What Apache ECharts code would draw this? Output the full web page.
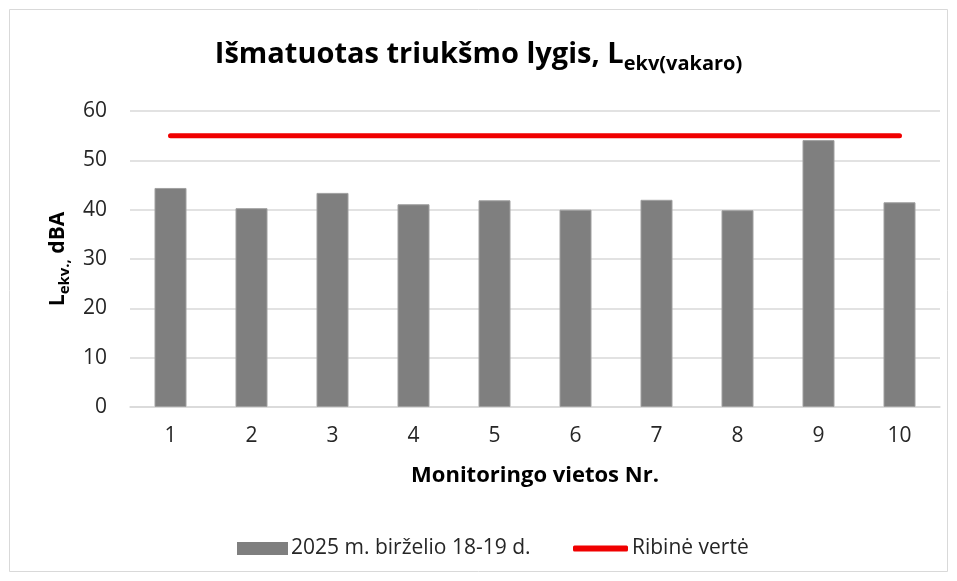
<!DOCTYPE html>
<html>
<head>
<meta charset="utf-8">
<script src="https://cdn.jsdelivr.net/npm/echarts@6/dist/echarts.min.js"></script>
<style>
  html, body { margin: 0; padding: 0; background: #fff; }
  #chart { width: 957px; height: 581px; }
</style>
</head>
<body>
<div id="chart"></div>
<script>
// duomenys
const vietos = ['1', '2', '3', '4', '5', '6', '7', '8', '9', '10']
const lygis = [44.4, 40.3, 43.4, 41.1, 41.9, 40.0, 42.0, 39.9, 54.1, 41.5]
const ribine = [55, 55, 55, 55, 55, 55, 55, 55, 55, 55]
const yTicks = [0, 10, 20, 30, 40, 50, 60]

const barName = '2025 m. birželio 18-19 d.'
const lineName = 'Ribinė vertė'
const font = '"Open Sans", "Noto Sans", sans-serif'
const txt = '#262626'

const chart = echarts.init(document.getElementById('chart'))

const option = {
  backgroundColor: '#fff',
  textStyle: { fontFamily: font },
  graphic: [{
    type: 'rect',
    shape: { x: 9.5, y: 9.5, width: 938, height: 562 },
    style: { fill: 'none', stroke: '#d9d9d9', lineWidth: 1 },
    silent: true
  }],
  title: {
    text: '{m|Išmatuotas triukšmo lygis, L}{s|ekv(vakaro)}',
    left: 'center',
    top: 31,
    textStyle: {
      rich: {
        m: { fontSize: 29, fontWeight: 'bold', color: '#000', fontFamily: font, lineHeight: 38 },
        s: { fontSize: 20, fontWeight: 'bold', color: '#000', fontFamily: font, lineHeight: 19, verticalAlign: 'bottom' }
      }
    }
  },
  legend: [{
    data: [{ name: barName, itemStyle: { borderWidth: 0 } }],
    left: 237,
    top: 538,
    padding: 0,
    itemWidth: 51,
    itemHeight: 13,
    icon: 'rect',
    textStyle: { fontSize: 21, color: txt, fontFamily: font, padding: [0, 0, 0, -2] }
  }, {
    data: [lineName],
    left: 573,
    top: 538,
    padding: 0,
    itemWidth: 55,
    itemHeight: 6,
    icon: 'roundRect',
    textStyle: { fontSize: 21, color: txt, fontFamily: font, padding: [0, 0, 0, -1] }
  }],
  grid: { left: 130, right: 17, top: 111, bottom: 174 },
  xAxis: {
    type: 'category',
    data: vietos,
    name: 'Monitoringo vietos Nr.',
    nameLocation: 'middle',
    nameGap: 58,
    nameTextStyle: { fontSize: 22, fontWeight: 'bold', color: '#000', fontFamily: font },
    axisLine: { lineStyle: { color: '#d9d9d9', width: 1.5 } },
    axisTick: { show: false },
    axisLabel: { fontSize: 21, color: txt, margin: 19, fontFamily: font }
  },
  yAxis: {
    type: 'value',
    min: yTicks[0],
    max: yTicks[yTicks.length - 1],
    interval: 10,
    name: '{m|L}{s|ekv.,}{m| dBA}',
    nameLocation: 'middle',
    nameGap: 57,
    nameTextStyle: {
      rich: {
        m: { fontSize: 21, fontWeight: 'bold', color: '#000', fontFamily: font, lineHeight: 28 },
        s: { fontSize: 15, fontWeight: 'bold', color: '#000', fontFamily: font, lineHeight: 14, verticalAlign: 'bottom' }
      }
    },
    axisLine: { show: false },
    axisTick: { show: false },
    axisLabel: { fontSize: 21, color: txt, margin: 23, fontFamily: font },
    splitLine: { lineStyle: { color: '#d9d9d9', width: 1.5 } }
  },
  series: [{
    name: barName,
    type: 'bar',
    data: lygis,
    barWidth: 32,
    itemStyle: { color: '#7f7f7f', borderColor: '#a0a0a0', borderWidth: 1 }
  }, {
    name: lineName,
    type: 'line',
    data: ribine,
    symbol: 'none',
    color: '#f00000',
    lineStyle: { color: '#f00000', width: 5, cap: 'round' },
    z: 5
  }]
}

chart.setOption(option)
</script>
</body>
</html>
